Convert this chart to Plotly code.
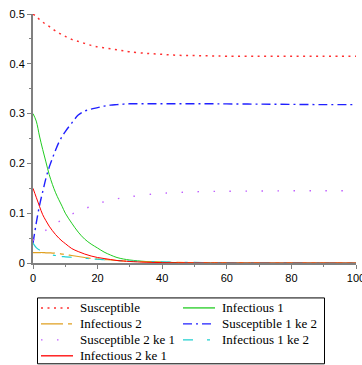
import plotly.graph_objects as go

t = [0, 1, 2, 3, 4, 5, 6, 7, 8, 9, 10, 12, 14, 16, 18, 20, 22, 24, 26, 28, 30,
     35, 40, 45, 50, 55, 60, 70, 80, 90, 100]

susceptible = [0.5, 0.495, 0.489, 0.484, 0.479, 0.475, 0.470, 0.466, 0.462, 0.458, 0.455,
               0.449, 0.445, 0.441, 0.437, 0.434, 0.432, 0.430, 0.428, 0.426, 0.424,
               0.421, 0.419, 0.417, 0.4165, 0.4158, 0.4153, 0.415, 0.415, 0.415, 0.415]

infectious1 = [0.3, 0.285, 0.255, 0.228, 0.203, 0.178, 0.158, 0.141, 0.127, 0.114, 0.1,
               0.08, 0.062, 0.048, 0.038, 0.03, 0.022, 0.016, 0.011, 0.008, 0.006,
               0.003, 0.0015, 0.0008, 0.0004, 0.0002, 0.0001, 0, 0, 0, 0]

infectious2 = [0.021, 0.021, 0.021, 0.021, 0.0205, 0.0205, 0.020, 0.020, 0.019, 0.018, 0.017,
               0.015, 0.013, 0.011, 0.009, 0.008, 0.007, 0.006, 0.005, 0.004, 0.0035,
               0.0025, 0.0017, 0.0011, 0.0007, 0.0004, 0.0002, 0, 0, 0, 0]

susceptible_1_ke_2 = [0.04, 0.08, 0.115, 0.143, 0.17, 0.192, 0.21, 0.227, 0.242, 0.254, 0.264,
                      0.281, 0.297, 0.305, 0.309, 0.312, 0.315, 0.317, 0.318, 0.319, 0.3197,
                      0.3197, 0.3197, 0.3197, 0.3197, 0.3197, 0.3195, 0.319, 0.3185, 0.318, 0.318]

susceptible_2_ke_1 = [0.045, 0.053, 0.057, 0.061, 0.066, 0.071, 0.075, 0.079, 0.083, 0.087, 0.091,
                      0.098, 0.104, 0.109, 0.114, 0.119, 0.123, 0.126, 0.129, 0.131, 0.133,
                      0.137, 0.14, 0.1415, 0.143, 0.1437, 0.144, 0.1445, 0.145, 0.145, 0.145]

infectious_1_ke_2 = [0.04, 0.031, 0.026, 0.023, 0.02, 0.018, 0.016, 0.015, 0.014, 0.013, 0.0125,
                     0.0115, 0.0105, 0.0095, 0.0085, 0.0075, 0.0065, 0.0058, 0.005, 0.0045, 0.004,
                     0.003, 0.0022, 0.0016, 0.0012, 0.0009, 0.0006, 0.0003, 0.0001, 0, 0]

infectious_2_ke_1 = [0.15, 0.132, 0.114, 0.097, 0.085, 0.074, 0.065, 0.057, 0.05, 0.044, 0.039,
                     0.029, 0.023, 0.018, 0.014, 0.011, 0.009, 0.007, 0.005, 0.004, 0.003,
                     0.0015, 0.0008, 0.0004, 0.0002, 0.0001, 0, 0, 0, 0, 0]

x_ticks = [0, 20, 40, 60, 80, 100]
y_ticks = [0, 0.1, 0.2, 0.3, 0.4, 0.5]
y_tick_labels = ["0", "0.1", "0.2", "0.3", "0.4", "0.5"]

series = [
    ("Susceptible", susceptible, "#ff3030", 1.5, "2px,4.5px"),
    ("Infectious 1", infectious1, "#22cc22", 1.0, "solid"),
    ("Infectious 2", infectious2, "#e0a020", 1.2, "22px,5px,4px,5px"),
    ("Susceptible 1 ke 2", susceptible_1_ke_2, "#2020ff", 1.4, "9px,4px,2px,4px"),
    ("Susceptible 2 ke 1", susceptible_2_ke_1, "#c060ff", 1.4, "1.5px,14.5px"),
    ("Infectious 1 ke 2", infectious_1_ke_2, "#20d0d0", 1.2, "10px,14px,3px,6px"),
    ("Infectious 2 ke 1", infectious_2_ke_1, "#ff0000", 1.0, "solid"),
]

# plot-area geometry in pixels (used only for placing the legend box)
W, H = 362, 365
L, R, T, B = 33, 6, 14, 101.5
PW, PH = W - L - R, H - T - B


def px(xp):
    return (xp - L) / PW


def py(yp):
    return (H - B - yp) / PH


fig = go.Figure()
for name, ys, color, w, dash in series:
    fig.add_trace(go.Scatter(x=t, y=ys, mode="lines", name=name, showlegend=False,
                             line=dict(color=color, width=w, dash=dash, shape="spline")))

axis_common = dict(
    showgrid=False, zeroline=False, showline=True, linecolor="#808080", linewidth=2,
    ticks="outside", tickcolor="#808080", ticklen=4, tickwidth=1,
    tickfont=dict(family="Liberation Sans, Arial, sans-serif", size=11, color="#000000"),
    layer="above traces", ticklabeloverflow="allow",
)

fig.update_xaxes(range=[0, 100], tickmode="array", tickvals=x_ticks,
                 minor=dict(tickvals=[10, 30, 50, 70, 90], ticks="outside", ticklen=2,
                            tickcolor="#808080"),
                 **axis_common)
fig.update_yaxes(range=[0, 0.5], tickmode="array", tickvals=y_ticks, ticktext=y_tick_labels,
                 minor=dict(tickvals=[0.05, 0.15, 0.25, 0.35, 0.45], ticks="outside", ticklen=2,
                            tickcolor="#808080"),
                 **axis_common)

# legend drawn as a boxed two-column key below the plot
shapes = [dict(type="rect", xref="paper", yref="paper",
               x0=px(37.5), x1=px(324.5), y0=py(298.5), y1=py(364.5),
               line=dict(color="#000000", width=1), fillcolor="white", layer="below")]
annotations = []
col_x = [41, 183]
row_y = [308.5, 324.5, 340.5, 356.5]
for i, (name, ys, color, w, dash) in enumerate(series):
    r, c = divmod(i, 2)
    x0 = col_x[c]
    yy = row_y[r]
    shapes.append(dict(type="line", xref="paper", yref="paper",
                       x0=px(x0), x1=px(x0 + 32), y0=py(yy), y1=py(yy),
                       line=dict(color=color, width=max(w, 1.3), dash=dash)))
    annotations.append(dict(xref="paper", yref="paper", x=px(x0 + 37), y=py(yy),
                            xanchor="left", yanchor="middle", text=name, showarrow=False,
                            font=dict(family="Liberation Serif, Times New Roman, serif",
                                      size=13, color="#000000")))

fig.update_layout(
    width=W, height=H,
    margin=dict(l=L, r=R, t=T, b=B, autoexpand=False),
    plot_bgcolor="white", paper_bgcolor="white",
    showlegend=False,
    shapes=shapes, annotations=annotations,
)

fig.write_html("out.html", config={"displayModeBar": False},
               post_script="document.body.style.margin='0';document.body.style.padding='0';")
